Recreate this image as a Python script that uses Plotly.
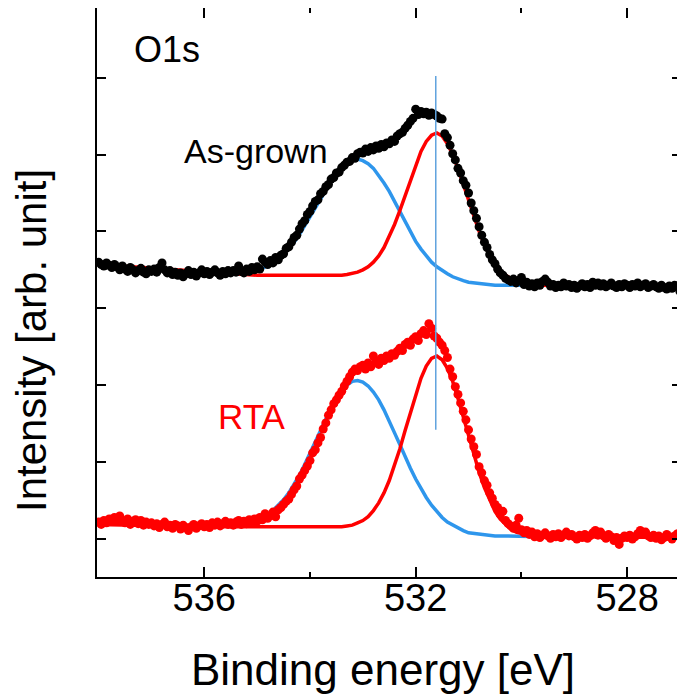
import numpy as np
import plotly.graph_objects as go

# measurement grid (0.05 eV step, high -> low binding energy)
energy = np.round(np.arange(538.0, 526.99, -0.05), 2)

# O1s spectrum, as-grown sample (offset upwards)
asgrown = [
    3.60, 3.57, 3.55, 3.59, 3.56, 3.53, 3.57, 3.54, 3.50, 3.55,
    3.51, 3.48, 3.53, 3.50, 3.46, 3.49, 3.52, 3.47, 3.45, 3.50,
    3.48, 3.51, 3.47, 3.53, 3.59, 3.50, 3.46, 3.49, 3.44, 3.47,
    3.43, 3.46, 3.41, 3.45, 3.49, 3.44, 3.47, 3.42, 3.46, 3.50,
    3.45, 3.48, 3.44, 3.47, 3.50, 3.46, 3.43, 3.48, 3.45, 3.49,
    3.46, 3.49, 3.47, 3.55, 3.48, 3.46, 3.51, 3.48, 3.53, 3.50,
    3.54, 3.51, 3.64, 3.60, 3.57, 3.62, 3.59, 3.66, 3.63, 3.69,
    3.71, 3.78, 3.80, 3.86, 3.92, 3.95, 4.03, 4.10, 4.14, 4.22,
    4.26, 4.33, 4.39, 4.41, 4.49, 4.52, 4.58, 4.61, 4.68, 4.70,
    4.76, 4.77, 4.83, 4.86, 4.90, 4.91, 4.96, 4.95, 5.01, 5.03,
    5.02, 5.07, 5.04, 5.09, 5.06, 5.11, 5.08, 5.13, 5.10, 5.15,
    5.14, 5.19, 5.17, 5.24, 5.27, 5.29, 5.34, 5.38, 5.43, 5.47,
    5.59, 5.52, 5.56, 5.53, 5.55, 5.51, 5.54, 5.52, 5.50, 5.47,
    5.46, 5.27, 5.22, 5.12, 5.01, 4.93, 4.82, 4.76, 4.66, 4.60,
    4.50, 4.37, 4.27, 4.17, 4.06, 3.95, 3.86, 3.79, 3.70, 3.63,
    3.58, 3.51, 3.46, 3.43, 3.39, 3.37, 3.35, 3.38, 3.33, 3.36,
    3.40, 3.31, 3.34, 3.29, 3.32, 3.28, 3.33, 3.30, 3.35, 3.38,
    3.34, 3.29, 3.31, 3.27, 3.30, 3.28, 3.33, 3.29, 3.31, 3.27,
    3.30, 3.26, 3.29, 3.32, 3.28, 3.31, 3.27, 3.34, 3.30, 3.33,
    3.29, 3.32, 3.28, 3.30, 3.33, 3.29, 3.27, 3.31, 3.28, 3.32,
    3.30, 3.27, 3.31, 3.29, 3.33, 3.28, 3.30, 3.32, 3.27, 3.29,
    3.31, 3.28, 3.26, 3.30, 3.27, 3.25, 3.29, 3.26, 3.30, 3.28,
    3.22,
]

# O1s spectrum after RTA
rta = [
    0.22, 0.19, 0.24, 0.21, 0.26, 0.23, 0.28, 0.25, 0.30, 0.24,
    0.21, 0.26, 0.19, 0.23, 0.25, 0.20, 0.24, 0.18, 0.22, 0.19,
    0.21, 0.17, 0.20, 0.15, 0.19, 0.22, 0.16, 0.18, 0.14, 0.19,
    0.17, 0.13, 0.18, 0.15, 0.11, 0.16, 0.19, 0.14, 0.17, 0.20,
    0.16, 0.19, 0.15, 0.21, 0.18, 0.22, 0.17, 0.20, 0.23, 0.19,
    0.21, 0.18, 0.22, 0.24, 0.19, 0.23, 0.20, 0.25, 0.22, 0.26,
    0.23, 0.28, 0.25, 0.33, 0.27, 0.30, 0.35, 0.29, 0.38, 0.41,
    0.45, 0.49, 0.52, 0.58, 0.64, 0.69, 0.78, 0.83, 0.89, 0.95,
    1.02, 1.12, 1.16, 1.25, 1.32, 1.43, 1.51, 1.61, 1.68, 1.76,
    1.81, 1.87, 1.92, 1.99, 2.05, 2.11, 2.17, 2.21, 2.19, 2.24,
    2.26, 2.21, 2.29, 2.24, 2.38, 2.31, 2.27, 2.35, 2.32, 2.38,
    2.35, 2.41, 2.39, 2.44, 2.48, 2.45, 2.53, 2.56, 2.52, 2.60,
    2.63, 2.58, 2.67, 2.71, 2.66, 2.80, 2.74, 2.64, 2.61, 2.56,
    2.52, 2.45, 2.36, 2.21, 2.11, 1.98, 1.88, 1.77, 1.66, 1.55,
    1.42, 1.30, 1.20, 1.10, 0.94, 0.86, 0.76, 0.70, 0.60, 0.53,
    0.45, 0.41, 0.32, 0.36, 0.24, 0.20, 0.17, 0.14, 0.18, 0.27,
    0.12, 0.08, 0.11, 0.06, 0.09, 0.03, 0.07, 0.02, 0.05, 0.08,
    0.04, 0.01, 0.06, 0.03, 0.07, 0.02, 0.05, 0.09, 0.04, 0.06,
    0.03, 0.00, 0.05, 0.02, 0.06, 0.01, 0.04, 0.08, 0.11, 0.05,
    0.09, 0.04, 0.01, 0.06, 0.03, -0.02, 0.02, -0.07, 0.01, 0.04,
    0.02, 0.05, 0.00, 0.03, 0.07, 0.11, 0.06, 0.09, 0.04, 0.02,
    0.05, 0.01, 0.04, -0.01, 0.02, 0.06, 0.03, 0.00, 0.04, 0.07,
    0.04,
]

# fitted components (peak + background), 0.1 eV step in the peak region
peak_grid = list(np.round(np.arange(535.6, 529.55, -0.1), 1))
fit_energy = [538.0, 537.0, 536.0] + peak_grid + [529.0, 528.0, 527.0]

asgrown_red = [
    3.57, 3.52, 3.47,
    3.45, 3.45, 3.44, 3.44, 3.44, 3.43, 3.43, 3.43, 3.43, 3.43,
    3.43, 3.43, 3.42, 3.42, 3.42, 3.42, 3.42, 3.42, 3.42, 3.42,
    3.42, 3.43, 3.43, 3.44, 3.45, 3.47, 3.50, 3.54, 3.60, 3.68,
    3.79, 3.93, 4.09, 4.27, 4.47, 4.67, 4.87, 5.04, 5.17, 5.25,
    5.28, 5.24, 5.14, 5.00, 4.82, 4.61, 4.40, 4.19, 4.00, 3.83,
    3.69, 3.58, 3.49, 3.43, 3.39, 3.35, 3.33, 3.32, 3.31, 3.31,
    3.30,
    3.29, 3.28, 3.27,
]
asgrown_blue = [
    3.46, 3.46, 3.46, 3.46, 3.47, 3.48, 3.50, 3.52, 3.56, 3.60,
    3.65, 3.71, 3.78, 3.86, 3.96, 4.07, 4.18, 4.30, 4.42, 4.54,
    4.65, 4.75, 4.83, 4.89, 4.93, 4.94, 4.92, 4.88, 4.82, 4.73,
    4.63, 4.52, 4.39, 4.27, 4.12, 3.99, 3.87, 3.77, 3.68, 3.60,
    3.54, 3.49, 3.45, 3.41, 3.38, 3.36, 3.34, 3.33, 3.32, 3.31,
    3.31, 3.30, 3.30, 3.30, 3.30, 3.30, 3.30, 3.30, 3.30, 3.30,
    3.30,
]
rta_red = [
    0.19, 0.17, 0.16,
    0.16, 0.16, 0.16, 0.16, 0.16, 0.16, 0.16, 0.15, 0.15, 0.15,
    0.15, 0.15, 0.15, 0.15, 0.15, 0.15, 0.15, 0.15, 0.15, 0.15,
    0.15, 0.16, 0.16, 0.17, 0.18, 0.21, 0.24, 0.29, 0.37, 0.47,
    0.60, 0.76, 0.95, 1.17, 1.41, 1.65, 1.88, 2.09, 2.25, 2.35,
    2.38, 2.33, 2.22, 2.05, 1.83, 1.59, 1.34, 1.09, 0.87, 0.67,
    0.50, 0.36, 0.26, 0.19, 0.13, 0.09, 0.07, 0.05, 0.04, 0.04,
    0.03,
    0.03, 0.02, 0.02,
]
rta_blue = [
    0.19, 0.19, 0.19, 0.20, 0.21, 0.22, 0.25, 0.28, 0.32, 0.37,
    0.44, 0.51, 0.60, 0.71, 0.83, 0.97, 1.11, 1.26, 1.41, 1.56,
    1.70, 1.82, 1.93, 2.00, 2.05, 2.06, 2.04, 1.99, 1.91, 1.81,
    1.68, 1.54, 1.38, 1.23, 1.07, 0.92, 0.78, 0.65, 0.54, 0.44,
    0.36, 0.28, 0.22, 0.18, 0.14, 0.11, 0.08, 0.07, 0.06, 0.05,
    0.04, 0.04, 0.04, 0.04, 0.04, 0.03, 0.03, 0.03, 0.03, 0.03,
    0.03,
]

# peak position marker
ref_energy = 531.62
ref_span = [1.42, 6.02]

RED = "#ff0000"
BLUE = "#2e96ec"

fig = go.Figure()
for ys in (asgrown_blue, rta_blue):
    fig.add_trace(go.Scatter(x=peak_grid, y=ys, mode="lines",
                             line=dict(color=BLUE, width=3.5)))
for ys in (asgrown_red, rta_red):
    fig.add_trace(go.Scatter(x=fit_energy, y=ys, mode="lines",
                             line=dict(color=RED, width=3.5)))
fig.add_trace(go.Scatter(x=energy, y=asgrown, mode="markers",
                         marker=dict(color="black", size=9)))
fig.add_trace(go.Scatter(x=energy, y=rta, mode="markers",
                         marker=dict(color=RED, size=9)))
fig.add_trace(go.Scatter(x=[ref_energy, ref_energy], y=ref_span, mode="lines",
                         line=dict(color="#5fa3de", width=1.5)))

fig.add_annotation(x=537.37, y=6.36, text="O1s", showarrow=False,
                   xanchor="left", yanchor="middle", font=dict(size=36))
fig.add_annotation(x=536.42, y=5.05, text="As-grown", showarrow=False,
                   xanchor="left", yanchor="middle", font=dict(size=34))
fig.add_annotation(x=535.78, y=1.59, text="RTA", showarrow=False,
                   xanchor="left", yanchor="middle", font=dict(size=35, color=RED))

# axis titles
fig.add_annotation(xref="paper", yref="paper", x=0.489, y=-0.162,
                   text="Binding energy [eV]", showarrow=False,
                   xanchor="center", yanchor="middle", font=dict(size=44))
fig.add_annotation(xref="paper", yref="paper", x=-0.111, y=0.415,
                   text="Intensity [arb. unit]", showarrow=False, textangle=-90,
                   xanchor="center", yanchor="middle", font=dict(size=42))

# the page body adds an 8 px offset, margins compensate for it
fig.update_layout(
    width=685, height=695,
    margin=dict(l=89, r=12, t=0, b=126),
    plot_bgcolor="white", paper_bgcolor="white",
    showlegend=False,
    font=dict(family="Liberation Sans, Arial, sans-serif", color="black"),
)
fig.update_xaxes(
    range=[538.03, 526.98], tickvals=[536, 532, 528],
    ticks="inside", ticklen=10, tickwidth=1.5, tickcolor="black",
    minor=dict(tickvals=[534, 530], ticks="inside", ticklen=5,
               tickwidth=1.5, tickcolor="black"),
    showline=True, linewidth=2, linecolor="black", mirror="ticks",
    showgrid=False, zeroline=False, automargin=False,
    tickfont=dict(size=38), ticklabelstandoff=-14,
)
fig.update_yaxes(
    range=[-0.494, 6.905], tickvals=[0, 1, 2, 3, 4, 5, 6],
    ticks="inside", ticklen=9, tickwidth=1.5, tickcolor="black",
    showticklabels=False,
    showline=True, linewidth=2, linecolor="black", mirror="ticks",
    showgrid=False, zeroline=False, automargin=False,
)

fig.write_html("out.html")
